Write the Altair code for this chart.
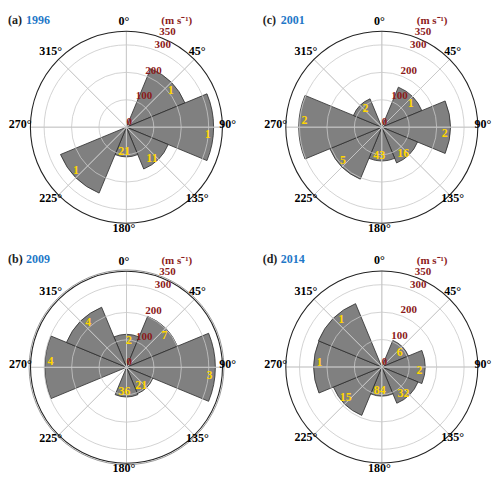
import math
import altair as alt
import pandas as pd

# ---------------- data ----------------
directions = [0, 45, 90, 135, 180, 225, 270, 315]
direction_labels = ["0°", "45°", "90°", "135°", "180°", "225°", "270°", "315°"]
panel_letters = ["(a)", "(b)", "(c)", "(d)"]
panel_years = ["1996", "2009", "2001", "2014"]

speed_1996 = [0, 231, 318, 165, 108, 260, 0, 0]
count_1996 = [0, 1, 1, 11, 21, 1, 0, 0]
speed_2001 = [0, 158, 250, 141, 123, 205, 303, 112]
count_2001 = [0, 1, 2, 16, 43, 5, 2, 2]
speed_2009 = [120, 201, 324, 104, 108, 0, 298, 237]
count_2009 = [2, 7, 3, 21, 36, 0, 4, 4]
speed_2014 = [0, 105, 158, 143, 106, 191, 248, 250]
count_2014 = [0, 6, 2, 32, 84, 15, 1, 1]

radial_ticks = [0, 100, 200, 300, 350]
grid_rings = [100, 200, 300]
unit_label = "(m s⁻¹)"

series = {
    "1996": (speed_1996, count_1996),
    "2001": (speed_2001, count_2001),
    "2009": (speed_2009, count_2009),
    "2014": (speed_2014, count_2014),
}
rows = []
for yr, (sp, ct) in series.items():
    for d, s, c in zip(directions, sp, ct):
        rows.append({"year": yr, "dir": d, "speed": s, "count": str(c)})
bars_df = pd.DataFrame(rows)
dirs_df = pd.DataFrame({"dir": directions, "label": direction_labels})
rings_df = pd.DataFrame({"r": grid_rings})
ticks_df = pd.DataFrame({"r": radial_ticks, "label": [str(v) for v in radial_ticks]})
unit_df = pd.DataFrame({"label": [unit_label]})
titles_df = pd.DataFrame({"letter": panel_letters, "year": panel_years})

# ---------------- style / layout ----------------
FONT = "Liberation Serif"
R = 96.0
TS = alt.Scale(domain=[0, 360], range=[0, 2 * math.pi], nice=False, zero=False)
RS = alt.Scale(type="linear", domain=[0, 350], range=[0, R], nice=False, zero=True)
BAR_FILL = "#808080"
GRID = "#c8c8c8"
RED = "#8b1a1a"
YELLOW = "#ffd500"
BLUE = "#1f78c8"

layout = {
    # year: (cx, cy, title_x, title_y)
    "1996": (118.4, 119.2, 0.0, 7.5),
    "2001": (373.8, 119.2, 254.7, 7.5),
    "2009": (118.5, 359.3, 0.0, 246.5),
    "2014": (373.8, 359.0, 254.7, 246.5),
}


def ring_layer(X, Y, radius, color, width):
    return (
        alt.Chart(unit_df)
        .transform_calculate(t0="0", t1="360", r=str(radius))
        .mark_arc(fill="white", fillOpacity=0, stroke=color, strokeWidth=width)
        .encode(
            x=X, y=Y,
            theta=alt.Theta("t0:Q", scale=TS, stack=False),
            theta2="t1:Q",
            radius=alt.Radius("r:Q", scale=RS),
        )
    )


layers = []
for yr, (cx, cy, tx, ty) in layout.items():
    X = alt.value(cx)
    Y = alt.value(cy)
    bars = (
        alt.Chart(bars_df)
        .transform_filter(f"datum.year == '{yr}' && datum.speed > 0")
        .transform_calculate(t0="datum.dir - 22.5", t1="datum.dir + 22.5")
        .mark_arc(fill=BAR_FILL, stroke="#2b2b2b", strokeWidth=0.8)
        .encode(
            x=X, y=Y,
            theta=alt.Theta("t0:Q", scale=TS, stack=False),
            theta2="t1:Q",
            radius=alt.Radius("speed:Q", scale=RS),
        )
    )
    rings = (
        alt.Chart(rings_df)
        .transform_calculate(t0="0", t1="360")
        .mark_arc(fill="white", fillOpacity=0, stroke=GRID, strokeWidth=0.8)
        .encode(
            x=X, y=Y,
            theta=alt.Theta("t0:Q", scale=TS, stack=False),
            theta2="t1:Q",
            radius=alt.Radius("r:Q", scale=RS),
        )
    )
    spokes = (
        alt.Chart(dirs_df)
        .transform_calculate(r="350")
        .mark_arc(fill="white", fillOpacity=0, stroke=GRID, strokeWidth=0.8)
        .encode(
            x=X, y=Y,
            theta=alt.Theta("dir:Q", scale=TS, stack=False),
            theta2="dir:Q",
            radius=alt.Radius("r:Q", scale=RS),
        )
    )
    outer = ring_layer(X, Y, 350, "#222222", 1.1)
    counts = (
        alt.Chart(bars_df)
        .transform_filter(f"datum.year == '{yr}' && datum.speed > 0")
        .transform_calculate(ta="datum.dir + 5", rr="datum.speed - 20")
        .mark_text(font=FONT, fontWeight="bold", fontSize=12, color=YELLOW,
                   align="center", baseline="middle")
        .encode(
            x=X, y=Y,
            theta=alt.Theta("ta:Q", scale=TS, stack=False),
            radius=alt.Radius("rr:Q", scale=RS),
            text="count:N",
        )
    )
    dir_text = (
        alt.Chart(dirs_df)
        .transform_calculate(r="378")
        .mark_text(font=FONT, fontWeight="bold", fontSize=12, color="black",
                   align="center", baseline="middle", dx=-2.5, dy=-3)
        .encode(
            x=X, y=Y,
            theta=alt.Theta("dir:Q", scale=TS, stack=False),
            radius=alt.Radius("r:Q", scale=RS),
            text="label:N",
        )
    )
    tick_text = (
        alt.Chart(ticks_df)
        .transform_calculate(ta="20")
        .mark_text(font=FONT, fontWeight="bold", fontSize=11, color=RED,
                   align="left", baseline="bottom")
        .encode(
            x=X, y=Y,
            theta=alt.Theta("ta:Q", scale=TS, stack=False),
            radius=alt.Radius("r:Q", scale=RS),
            text="label:N",
        )
    )
    unit_text = (
        alt.Chart(unit_df)
        .transform_calculate(ta="19", r="391")
        .mark_text(font=FONT, fontWeight="bold", fontSize=11, color=RED,
                   align="left", baseline="bottom")
        .encode(
            x=X, y=Y,
            theta=alt.Theta("ta:Q", scale=TS, stack=False),
            radius=alt.Radius("r:Q", scale=RS),
            text="label:N",
        )
    )
    title_letter = (
        alt.Chart(titles_df)
        .transform_filter(f"datum.year == '{yr}'")
        .mark_text(font=FONT, fontWeight="bold", fontSize=12, color="#222222",
                   align="left", baseline="alphabetic")
        .encode(x=alt.value(tx), y=alt.value(ty + 8), text="letter:N")
    )
    title_year = (
        alt.Chart(titles_df)
        .transform_filter(f"datum.year == '{yr}'")
        .mark_text(font=FONT, fontWeight="bold", fontSize=12, color=BLUE,
                   align="left", baseline="alphabetic")
        .encode(x=alt.value(tx + 18), y=alt.value(ty + 8), text="year:N")
    )
    panel = [bars, rings, spokes, outer]
    if yr == "2009":
        panel.append(ring_layer(X, Y, 355, "#9a9a9a", 1.0))
    panel += [counts, dir_text, tick_text, unit_text, title_letter, title_year]
    layers += panel

chart = (
    alt.layer(*layers)
    .properties(width=484, height=467, autosize=alt.AutoSizeParams(type="none"),
                padding=0, background="white")
    .configure_view(strokeOpacity=0)
)

chart.save("out.html", embed_options={"renderer": "svg", "actions": False})
